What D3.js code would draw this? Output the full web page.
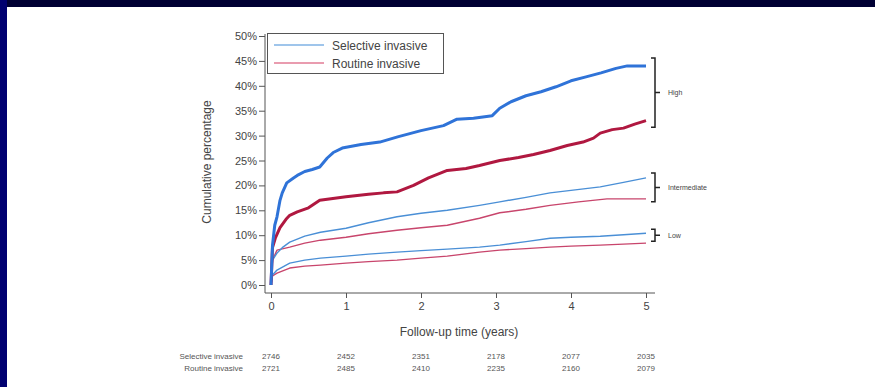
<!DOCTYPE html>
<html>
<head>
<meta charset="utf-8">
<script src="https://cdn.jsdelivr.net/npm/d3@7"></script>
<style>
  body { margin: 0; background: #fff; }
  svg { display: block; font-family: "Liberation Sans", Arial, sans-serif; }
</style>
</head>
<body>
<div id="chart"></div>
<script>
// time points (years) and cumulative percentages
const highSelT = [0, 0.02, 0.05, 0.08, 0.12, 0.15, 0.21, 0.3, 0.35, 0.45, 0.55, 0.65, 0.75, 0.83, 0.95, 1.2, 1.45, 1.7, 2.0, 2.3, 2.48, 2.7, 2.95, 3.05, 3.2, 3.4, 3.6, 3.8, 4.0, 4.2, 4.4, 4.6, 4.75, 5.0];
const highSel  = [0, 8, 12, 13.7, 17, 18.5, 20.5, 21.5, 22, 22.8, 23.2, 23.7, 25.5, 26.6, 27.5, 28.2, 28.7, 29.8, 31, 32, 33.3, 33.5, 34, 35.5, 36.8, 38, 38.8, 39.8, 41, 41.8, 42.6, 43.5, 44, 44];

const highRouT = [0, 0.02, 0.06, 0.12, 0.2, 0.25, 0.35, 0.5, 0.65, 0.8, 1.0, 1.3, 1.5, 1.68, 1.9, 2.1, 2.35, 2.6, 2.78, 3.05, 3.3, 3.5, 3.72, 3.95, 4.16, 4.3, 4.39, 4.55, 4.7, 4.85, 5.0];
const highRou  = [0, 7.5, 9.5, 11.5, 13.2, 14, 14.7, 15.5, 17, 17.3, 17.7, 18.2, 18.5, 18.7, 20, 21.5, 23, 23.4, 24, 25, 25.6, 26.2, 27, 28, 28.7, 29.5, 30.5, 31.2, 31.5, 32.3, 33];

const intSelT = [0, 0.02, 0.08, 0.15, 0.25, 0.45, 0.66, 1.0, 1.3, 1.68, 2.0, 2.35, 2.78, 3.05, 3.4, 3.72, 4.0, 4.39, 4.7, 5.0];
const intSel  = [0, 5, 6.4, 7.5, 8.6, 9.8, 10.6, 11.4, 12.5, 13.7, 14.4, 15, 16, 16.7, 17.6, 18.5, 19, 19.7, 20.6, 21.5];

const intRouT = [0, 0.02, 0.08, 0.25, 0.45, 0.66, 1.0, 1.3, 1.68, 2.0, 2.35, 2.78, 3.05, 3.4, 3.72, 4.1, 4.48, 4.7, 5.0];
const intRou  = [0, 5, 7, 7.6, 8.4, 9, 9.6, 10.3, 11, 11.5, 12, 13.4, 14.5, 15.2, 16, 16.7, 17.3, 17.3, 17.3];

const lowSelT = [0, 0.02, 0.08, 0.25, 0.45, 0.66, 1.0, 1.3, 1.68, 2.0, 2.35, 2.78, 3.05, 3.4, 3.72, 4.0, 4.39, 4.7, 5.0];
const lowSel  = [0, 2, 3, 4.4, 5, 5.4, 5.8, 6.2, 6.6, 6.9, 7.2, 7.6, 8, 8.7, 9.4, 9.6, 9.8, 10.1, 10.4];

const lowRouT = [0, 0.02, 0.08, 0.25, 0.45, 0.66, 1.0, 1.3, 1.68, 2.0, 2.35, 2.78, 3.05, 3.4, 3.72, 4.0, 4.39, 4.7, 5.0];
const lowRou  = [0, 1.8, 2.4, 3.4, 3.8, 4, 4.4, 4.7, 5, 5.4, 5.8, 6.6, 7, 7.3, 7.6, 7.8, 8, 8.2, 8.4];

// groups shown with brackets on the right (range in %)
const groupNames = ["High", "Intermediate", "Low"];
const groupLo = [31.7, 16.7, 8.8];
const groupHi = [45.6, 22.5, 11.2];

// numbers at risk
const atRiskYears = [0, 1, 2, 3, 4, 5];
const atRiskSel = [2746, 2452, 2351, 2178, 2077, 2035];
const atRiskRou = [2721, 2485, 2410, 2235, 2160, 2079];

const yTicks = [0, 5, 10, 15, 20, 25, 30, 35, 40, 45, 50];
const seriesNames = ["Selective invasive", "Routine invasive"];

const w = 875;
const h = 387;

const x = d3.scaleLinear().domain([0, 5]).range([271, 646]);
const y = d3.scaleLinear().domain([0, 50]).range([285, 36]);

const svg = d3.select("#chart").append("svg")
    .attr("width", w)
    .attr("height", h);

// slide background bits
svg.append("rect").attr("x", 0).attr("y", 0).attr("width", w).attr("height", h).attr("fill", "#fff");
svg.append("rect").attr("x", 0).attr("y", 0).attr("width", w).attr("height", 7).attr("fill", "#000033");
svg.append("rect").attr("x", 0).attr("y", 0).attr("width", 7).attr("height", h).attr("fill", "#000070");

const axisCol = "#555";

// y axis
const yAxis = svg.append("g")
    .attr("transform", "translate(265,0)")
    .call(d3.axisLeft(y).tickValues(yTicks).tickSize(6).tickPadding(2).tickFormat(d => d + "%"));
yAxis.select(".domain").remove();
yAxis.selectAll("line").attr("stroke", axisCol);
yAxis.selectAll("text").attr("font-size", 11).attr("fill", "#444").attr("font-family", "Liberation Sans, Arial, sans-serif");
svg.append("line").attr("x1", 265).attr("x2", 265).attr("y1", 34).attr("y2", 293).attr("stroke", axisCol);

// x axis
const xAxis = svg.append("g")
    .attr("transform", "translate(0,293)")
    .call(d3.axisBottom(x).ticks(5).tickSize(5).tickPadding(4).tickFormat(d3.format("d")));
xAxis.select(".domain").remove();
xAxis.selectAll("line").attr("stroke", axisCol);
xAxis.selectAll("text").attr("font-size", 11).attr("fill", "#444").attr("font-family", "Liberation Sans, Arial, sans-serif");
svg.append("line").attr("x1", 265).attr("x2", 655).attr("y1", 293).attr("y2", 293).attr("stroke", axisCol);

// axis titles
svg.append("text")
    .attr("x", 459).attr("y", 336)
    .attr("text-anchor", "middle")
    .attr("font-size", 12).attr("fill", "#444")
    .text("Follow-up time (years)");

svg.append("text")
    .attr("transform", "translate(211,162) rotate(-90)")
    .attr("text-anchor", "middle")
    .attr("font-size", 12).attr("fill", "#444")
    .text("Cumulative percentage");

// curves
const line = d3.line()
    .x(d => x(d[0]))
    .y(d => y(d[1]))
    .curve(d3.curveLinear);

function drawCurve(ts, vs, color, width) {
    const pts = ts.map((t, i) => [t, vs[i]]);
    svg.append("path")
        .datum(pts)
        .attr("d", line)
        .attr("fill", "none")
        .attr("stroke", color)
        .attr("stroke-width", width)
        .attr("stroke-linejoin", "round");
}

drawCurve(lowRouT, lowRou, "#c8456c", 1.4);
drawCurve(lowSelT, lowSel, "#4a8fd6", 1.4);
drawCurve(intRouT, intRou, "#c8456c", 1.4);
drawCurve(intSelT, intSel, "#4a8fd6", 1.4);
drawCurve(highRouT, highRou, "#b01840", 3);
drawCurve(highSelT, highSel, "#2f73d8", 3);

// brackets
groupNames.forEach((name, i) => {
    const top = y(groupHi[i]);
    const bot = y(groupLo[i]);
    const mid = (top + bot) / 2;
    const bx = 655;
    svg.append("path")
        .attr("d", `M${bx - 4},${top} H${bx} V${bot} H${bx - 4} M${bx},${mid} H${bx + 5}`)
        .attr("fill", "none")
        .attr("stroke", "#222")
        .attr("stroke-width", 1.5);
    svg.append("text")
        .attr("x", 668).attr("y", mid + 2.5)
        .attr("font-size", 7).attr("fill", "#444")
        .text(name);
});

// legend
svg.append("rect")
    .attr("x", 267.5).attr("y", 33.5).attr("width", 176).attr("height", 40)
    .attr("fill", "#fff").attr("stroke", "#555");
const legCols = ["#7fb2e4", "#e27b95"];
seriesNames.forEach((name, i) => {
    const ly = 45 + i * 18;
    svg.append("line")
        .attr("x1", 274).attr("x2", 324).attr("y1", ly).attr("y2", ly)
        .attr("stroke", legCols[i]).attr("stroke-width", 1.3);
    svg.append("text")
        .attr("x", 332).attr("y", ly + 4.5)
        .attr("font-size", 12).attr("fill", "#444")
        .text(name);
});

// numbers at risk table
const rows = [atRiskSel, atRiskRou];
rows.forEach((vals, r) => {
    const ry = 359 + r * 12;
    svg.append("text")
        .attr("x", 243).attr("y", ry)
        .attr("text-anchor", "end")
        .attr("font-size", 8).attr("fill", "#555")
        .text(seriesNames[r]);
    svg.selectAll(null)
        .data(vals)
        .enter()
        .append("text")
        .attr("x", (d, i) => x(atRiskYears[i]))
        .attr("y", ry)
        .attr("text-anchor", "middle")
        .attr("font-size", 8).attr("fill", "#555")
        .text(d => d);
});
</script>
</body>
</html>
